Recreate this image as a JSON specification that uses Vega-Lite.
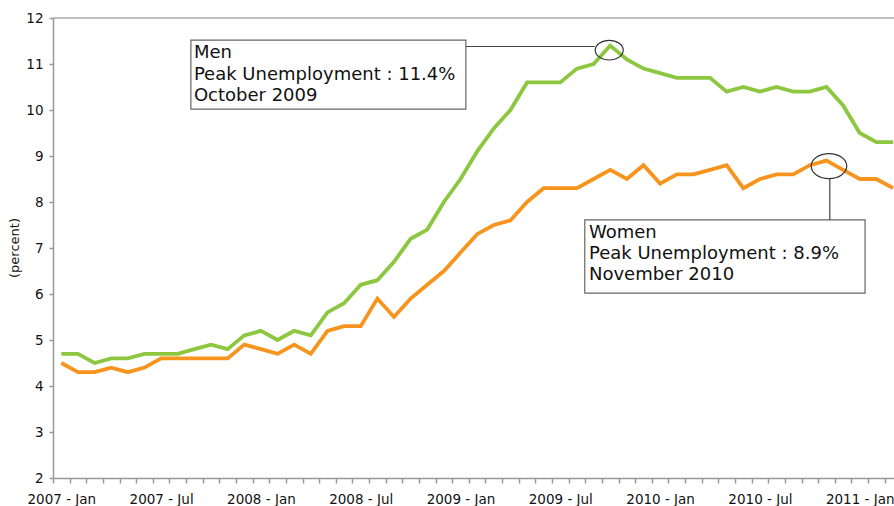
{
  "$schema": "https://vega.github.io/schema/vega-lite/v6.json",
  "width": 841,
  "height": 460,
  "autosize": {"type": "none"},
  "padding": {"left": 53, "top": 18, "right": 0, "bottom": 28},
  "background": "white",
  "config": {"view": {"stroke": null}, "font": "DejaVu Sans", "axis": {"titleFontSize": 13, "titleFontWeight": "normal", "titleColor": "#111111"}},
  "resolve": {"axis": {"x": "independent", "y": "independent"}},
  "data": {
    "values": [
      {"i": 0, "month": "2007-01", "Men": 4.7, "Women": 4.5},
      {"i": 1, "month": "2007-02", "Men": 4.7, "Women": 4.3},
      {"i": 2, "month": "2007-03", "Men": 4.5, "Women": 4.3},
      {"i": 3, "month": "2007-04", "Men": 4.6, "Women": 4.4},
      {"i": 4, "month": "2007-05", "Men": 4.6, "Women": 4.3},
      {"i": 5, "month": "2007-06", "Men": 4.7, "Women": 4.4},
      {"i": 6, "month": "2007-07", "Men": 4.7, "Women": 4.6},
      {"i": 7, "month": "2007-08", "Men": 4.7, "Women": 4.6},
      {"i": 8, "month": "2007-09", "Men": 4.8, "Women": 4.6},
      {"i": 9, "month": "2007-10", "Men": 4.9, "Women": 4.6},
      {"i": 10, "month": "2007-11", "Men": 4.8, "Women": 4.6},
      {"i": 11, "month": "2007-12", "Men": 5.1, "Women": 4.9},
      {"i": 12, "month": "2008-01", "Men": 5.2, "Women": 4.8},
      {"i": 13, "month": "2008-02", "Men": 5.0, "Women": 4.7},
      {"i": 14, "month": "2008-03", "Men": 5.2, "Women": 4.9},
      {"i": 15, "month": "2008-04", "Men": 5.1, "Women": 4.7},
      {"i": 16, "month": "2008-05", "Men": 5.6, "Women": 5.2},
      {"i": 17, "month": "2008-06", "Men": 5.8, "Women": 5.3},
      {"i": 18, "month": "2008-07", "Men": 6.2, "Women": 5.3},
      {"i": 19, "month": "2008-08", "Men": 6.3, "Women": 5.9},
      {"i": 20, "month": "2008-09", "Men": 6.7, "Women": 5.5},
      {"i": 21, "month": "2008-10", "Men": 7.2, "Women": 5.9},
      {"i": 22, "month": "2008-11", "Men": 7.4, "Women": 6.2},
      {"i": 23, "month": "2008-12", "Men": 8.0, "Women": 6.5},
      {"i": 24, "month": "2009-01", "Men": 8.5, "Women": 6.9},
      {"i": 25, "month": "2009-02", "Men": 9.1, "Women": 7.3},
      {"i": 26, "month": "2009-03", "Men": 9.6, "Women": 7.5},
      {"i": 27, "month": "2009-04", "Men": 10.0, "Women": 7.6},
      {"i": 28, "month": "2009-05", "Men": 10.6, "Women": 8.0},
      {"i": 29, "month": "2009-06", "Men": 10.6, "Women": 8.3},
      {"i": 30, "month": "2009-07", "Men": 10.6, "Women": 8.3},
      {"i": 31, "month": "2009-08", "Men": 10.9, "Women": 8.3},
      {"i": 32, "month": "2009-09", "Men": 11.0, "Women": 8.5},
      {"i": 33, "month": "2009-10", "Men": 11.4, "Women": 8.7},
      {"i": 34, "month": "2009-11", "Men": 11.1, "Women": 8.5},
      {"i": 35, "month": "2009-12", "Men": 10.9, "Women": 8.8},
      {"i": 36, "month": "2010-01", "Men": 10.8, "Women": 8.4},
      {"i": 37, "month": "2010-02", "Men": 10.7, "Women": 8.6},
      {"i": 38, "month": "2010-03", "Men": 10.7, "Women": 8.6},
      {"i": 39, "month": "2010-04", "Men": 10.7, "Women": 8.7},
      {"i": 40, "month": "2010-05", "Men": 10.4, "Women": 8.8},
      {"i": 41, "month": "2010-06", "Men": 10.5, "Women": 8.3},
      {"i": 42, "month": "2010-07", "Men": 10.4, "Women": 8.5},
      {"i": 43, "month": "2010-08", "Men": 10.5, "Women": 8.6},
      {"i": 44, "month": "2010-09", "Men": 10.4, "Women": 8.6},
      {"i": 45, "month": "2010-10", "Men": 10.4, "Women": 8.8},
      {"i": 46, "month": "2010-11", "Men": 10.5, "Women": 8.9},
      {"i": 47, "month": "2010-12", "Men": 10.1, "Women": 8.7},
      {"i": 48, "month": "2011-01", "Men": 9.5, "Women": 8.5},
      {"i": 49, "month": "2011-02", "Men": 9.3, "Women": 8.5},
      {"i": 50, "month": "2011-03", "Men": 9.3, "Women": 8.3}
    ]
  },
  "layer": [
    {
      "transform": [{"fold": ["Men", "Women"], "as": ["series", "rate"]}],
      "mark": {"type": "line", "strokeWidth": 3.8},
      "encoding": {
        "x": {
          "field": "i",
          "type": "quantitative",
          "scale": {"domain": [-0.5, 50.06], "nice": false, "zero": false},
          "axis": {
            "orient": "bottom",
            "title": null,
            "grid": false,
            "values": [-0.5, 0.5, 1.5, 2.5, 3.5, 4.5, 5.5, 6.5, 7.5, 8.5, 9.5, 10.5, 11.5, 12.5, 13.5, 14.5, 15.5, 16.5, 17.5, 18.5, 19.5, 20.5, 21.5, 22.5, 23.5, 24.5, 25.5, 26.5, 27.5, 28.5, 29.5, 30.5, 31.5, 32.5, 33.5, 34.5, 35.5, 36.5, 37.5, 38.5, 39.5, 40.5, 41.5, 42.5, 43.5, 44.5, 45.5, 46.5, 47.5, 48.5, 49.5],
            "labelExpr": "(datum.value + 0.5) % 6 == 0 ? (2007 + floor((datum.value + 0.5) / 12)) + ' - ' + ((datum.value + 0.5) % 12 == 0 ? 'Jan' : 'Jul') : ''",
            "labelOffset": 8.3,
            "labelAlign": "center",
            "labelOverlap": false,
            "labelFlush": false,
            "labelBound": false,
            "labelFontSize": 13.5,
            "labelColor": "#111111",
            "labelPadding": 9,
            "tickSize": 5,
            "tickColor": "#999999",
            "tickWidth": 1.5,
            "domainColor": "#999999",
            "domainWidth": 1.5
          }
        },
        "y": {
          "field": "rate",
          "type": "quantitative",
          "scale": {"domain": [2, 12], "nice": false, "zero": false},
          "axis": {
            "orient": "left",
            "title": "(percent)",
            "titleFontSize": 13,
            "titleFontWeight": "normal",
            "titleColor": "#111111",
            "titleX": -39,
            "titleY": 229.5,
            "titleAlign": "center",
            "titleBaseline": "middle",
            "titleLimit": 200,
            "grid": false,
            "values": [2, 3, 4, 5, 6, 7, 8, 9, 10, 11, 12],
            "labelFontSize": 13.5,
            "labelColor": "#111111",
            "labelPadding": 6,
            "tickSize": 4,
            "tickColor": "#999999",
            "tickWidth": 1.5,
            "domainColor": "#999999",
            "domainWidth": 1.5
          }
        },
        "color": {
          "field": "series",
          "type": "nominal",
          "scale": {"domain": ["Men", "Women"], "range": ["#8DC63F", "#F7941E"]},
          "legend": null
        }
      }
    },
    {
      "data": {"values": [{}]},
      "mark": {"type": "rule", "color": "#aaaaaa", "strokeWidth": 1.5},
      "encoding": {"y": {"datum": 12, "type": "quantitative", "axis": null}}
    },
    {
      "data": {"values": [{}]},
      "mark": {"type": "rect", "fill": "white", "stroke": "#666666", "strokeWidth": 1.2},
      "encoding": {
        "x": {"datum": 7.79, "type": "quantitative", "axis": null},
        "x2": {"datum": 24.32},
        "y": {"datum": 11.52, "type": "quantitative", "axis": null},
        "y2": {"datum": 10.02}
      }
    },
    {
      "data": {"values": [{}]},
      "mark": {"type": "text", "align": "left", "baseline": "alphabetic", "fontSize": 18, "fontWeight": "normal", "lineHeight": 21.7, "color": "#111111", "text": ["Men", "Peak Unemployment : 11.4%", "October 2009"]},
      "encoding": {
        "x": {"datum": 7.97, "type": "quantitative", "axis": null},
        "y": {"datum": 11.13, "type": "quantitative", "axis": null}
      }
    },
    {
      "data": {"values": [{}]},
      "mark": {"type": "rule", "color": "#444444", "strokeWidth": 1.2},
      "encoding": {
        "x": {"datum": 24.32, "type": "quantitative", "axis": null},
        "x2": {"datum": 32.07},
        "y": {"datum": 11.38, "type": "quantitative", "axis": null}
      }
    },
    {
      "data": {"values": [{}]},
      "mark": {"type": "point", "shape": "M-1,0A1,0.7,0,1,0,1,0A1,0.7,0,1,0,-1,0Z", "size": 784, "filled": false, "stroke": "#333333", "strokeWidth": 1.2, "opacity": 1},
      "encoding": {
        "x": {"datum": 32.94, "type": "quantitative", "axis": null},
        "y": {"datum": 11.3, "type": "quantitative", "axis": null}
      }
    },
    {
      "data": {"values": [{}]},
      "mark": {"type": "rect", "fill": "white", "stroke": "#666666", "strokeWidth": 1.2},
      "encoding": {
        "x": {"datum": 31.47, "type": "quantitative", "axis": null},
        "x2": {"datum": 48.32},
        "y": {"datum": 7.61, "type": "quantitative", "axis": null},
        "y2": {"datum": 6.02}
      }
    },
    {
      "data": {"values": [{}]},
      "mark": {"type": "text", "align": "left", "baseline": "alphabetic", "fontSize": 18, "fontWeight": "normal", "lineHeight": 20.6, "color": "#111111", "text": ["Women", "Peak Unemployment : 8.9%", "November 2010"]},
      "encoding": {
        "x": {"datum": 31.72, "type": "quantitative", "axis": null},
        "y": {"datum": 7.21, "type": "quantitative", "axis": null}
      }
    },
    {
      "data": {"values": [{}]},
      "mark": {"type": "rule", "color": "#444444", "strokeWidth": 1.2},
      "encoding": {
        "x": {"datum": 46.2, "type": "quantitative", "axis": null},
        "y": {"datum": 8.51, "type": "quantitative", "axis": null},
        "y2": {"datum": 7.61}
      }
    },
    {
      "data": {"values": [{}]},
      "mark": {"type": "point", "shape": "M-1,0A1,0.7,0,1,0,1,0A1,0.7,0,1,0,-1,0Z", "size": 1267, "filled": false, "stroke": "#333333", "strokeWidth": 1.2, "opacity": 1},
      "encoding": {
        "x": {"datum": 46.15, "type": "quantitative", "axis": null},
        "y": {"datum": 8.78, "type": "quantitative", "axis": null}
      }
    }
  ]
}
